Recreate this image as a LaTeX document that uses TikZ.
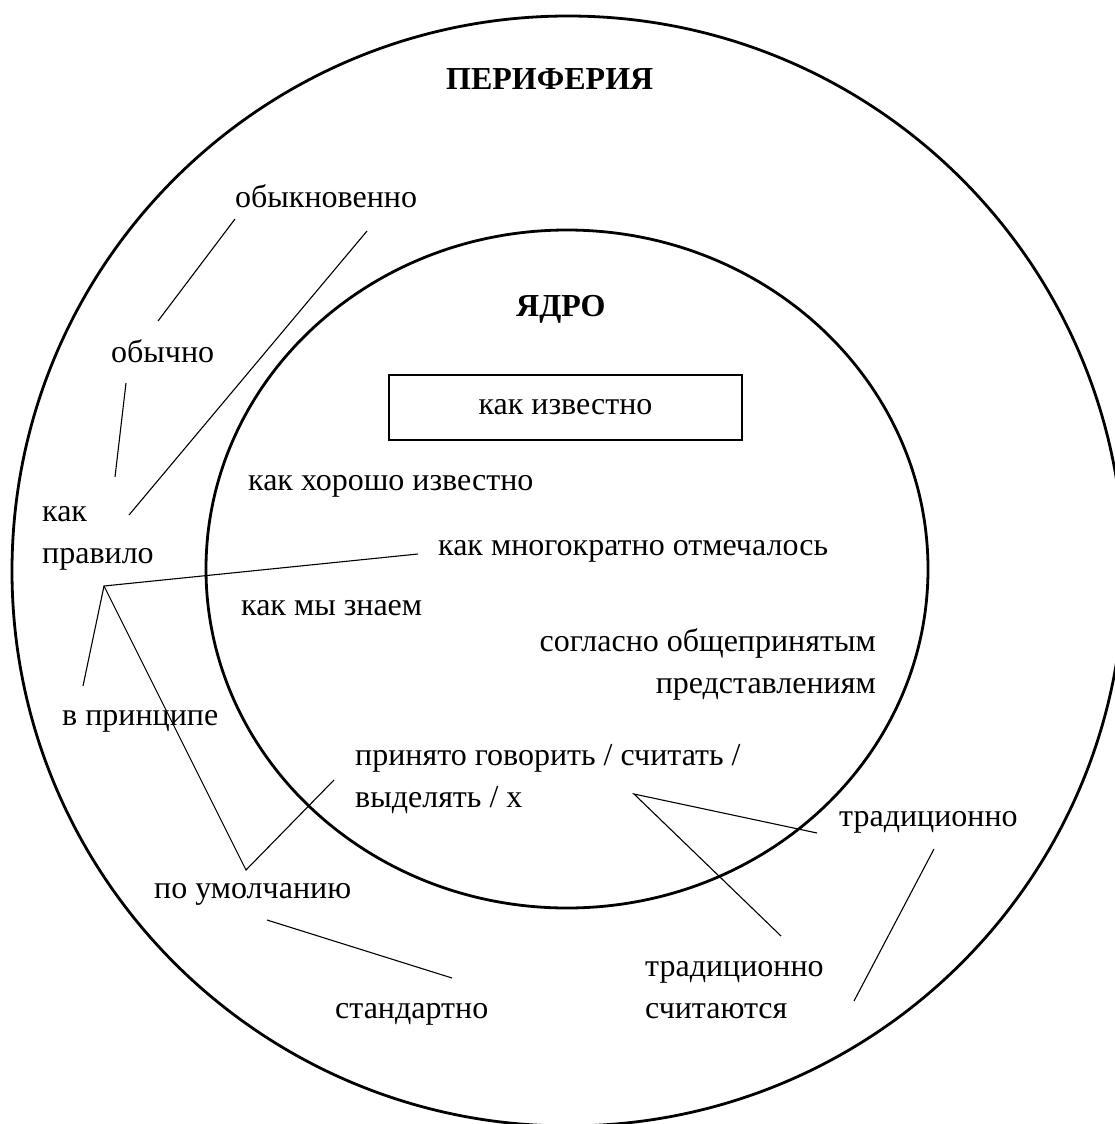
\documentclass[tikz,border=0pt]{standalone}
\usepackage{fontspec}
\setmainfont{Liberation Serif}

\begin{document}
\begin{tikzpicture}[
    x=1pt, y=-1pt,
    font=\fontsize{32}{42}\selectfont,
    ring/.style={draw, line width=2.8pt},
    keybox/.style={draw, line width=2.8pt, minimum width=353pt,
                   minimum height=65pt, inner sep=0pt},
    term/.style={inner sep=0pt, anchor=base west},
    heading/.style={term, font=\fontsize{32}{42}\selectfont\bfseries},
    conn/.style={draw, line width=1.1pt}
]
    \useasboundingbox (0,0) rectangle (1115,1124);

    \draw[ring] (568,571) ellipse [x radius=556pt, y radius=555pt];
    \draw[ring] (567,569) ellipse [x radius=361pt, y radius=339pt];

    \node[heading] (periphery) at (446,89) {ПЕРИФЕРИЯ};
    \node[heading] (core) at (516,316) {ЯДРО};
    \node[keybox] (known) at (565.5,407.5) {как известно};

    % multi-line terms sit on the baseline of their last line
    \node[term] (obyknovenno) at (235,207) {обыкновенно};
    \node[term] (obychno) at (111,362) {обычно};
    \node[term, align=left] (kakpravilo) at (42,563) {как\\правило};
    \node[term] (horosho) at (248,490) {как хорошо известно};
    \node[term] (mnogokratno) at (438,555) {как многократно отмечалось};
    \node[term] (myznaem) at (241,615) {как мы знаем};
    \node[term, anchor=base east, align=right] (soglasno) at (876,693)
        {согласно общепринятым\\представлениям};
    \node[term] (vprincipe) at (62,725) {в принципе};
    \node[term, align=left] (prinyato) at (355,807)
        {принято говорить / считать /\\выделять / x};
    \node[term] (tradicionno) at (839,826) {традиционно};
    \node[term] (poumolch) at (154,898) {по умолчанию};
    \node[term, align=left] (tradschit) at (645,1018) {традиционно\\считаются};
    \node[term] (standartno) at (335,1018) {стандартно};

    % line ends
    \coordinate (obk-a) at (235,219);
    \coordinate (obk-b) at (367,231);
    \coordinate (obch-t) at (158,321);
    \coordinate (obch-b) at (126,383);
    \coordinate (prav-a) at (115,477);
    \coordinate (prav-b) at (129,515);
    \coordinate (mnog-l) at (418,554);
    \coordinate (hub) at (104,586);
    \coordinate (princ-t) at (83,686);
    \coordinate (umol-v) at (246,870);
    \coordinate (prin-l) at (334,780);
    \coordinate (umol-r) at (267,920);
    \coordinate (stand-t) at (452,978);
    \coordinate (prin-v) at (634,794);
    \coordinate (trad-l) at (817,833);
    \coordinate (trad-b) at (934,849);
    \coordinate (tsch-t) at (781,936);
    \coordinate (tsch-r) at (854,1001);

    \draw[conn] (obk-a) -- (obch-t);
    \draw[conn] (obk-b) -- (prav-b);
    \draw[conn] (obch-b) -- (prav-a);
    \draw[conn] (mnog-l) -- (hub) -- (princ-t);
    \draw[conn] (hub) -- (umol-v) -- (prin-l);
    \draw[conn] (umol-r) -- (stand-t);
    \draw[conn] (trad-l) -- (prin-v) -- (tsch-t);
    \draw[conn] (trad-b) -- (tsch-r);

\end{tikzpicture}
\end{document}
